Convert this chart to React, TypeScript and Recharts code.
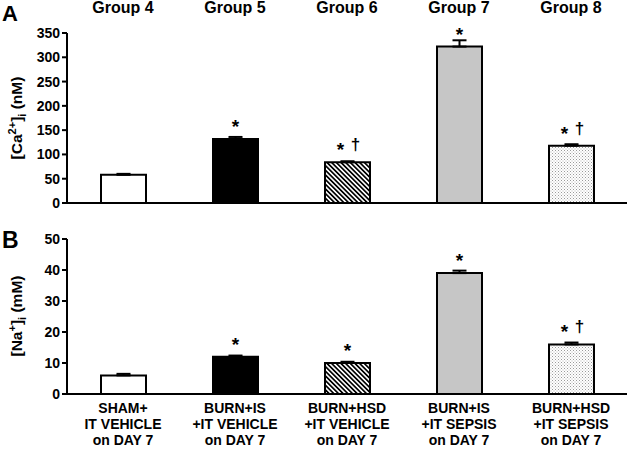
import React from "react";
import { BarChart, Bar, XAxis, YAxis, Cell, ErrorBar, LabelList } from "recharts";

const groups = ["Group 4", "Group 5", "Group 6", "Group 7", "Group 8"];
const conditions = [
  ["SHAM+", "IT VEHICLE", "on DAY 7"],
  ["BURN+IS", "+IT VEHICLE", "on DAY 7"],
  ["BURN+HSD", "+IT VEHICLE", "on DAY 7"],
  ["BURN+IS", "+IT SEPSIS", "on DAY 7"],
  ["BURN+HSD", "+IT SEPSIS", "on DAY 7"],
];
const caValues = [58, 132, 84, 322, 118];
const caErrors = [2, 4, 2, 13, 3];
const caMarks = ["", "*", "*†", "*", "*†"];
const naValues = [6, 12, 10, 39, 16];
const naErrors = [0.5, 0.4, 0.4, 0.8, 0.6];
const naMarks = ["", "*", "*", "*", "*†"];
const caTicks = [0, 50, 100, 150, 200, 250, 300, 350];
const naTicks = [0, 10, 20, 30, 40, 50];

const FONT = "'Liberation Sans', Arial, Helvetica, sans-serif";

const data = groups.map((g, i) => ({
  group: g,
  cond: i,
  ca: caValues[i],
  caErr: [0, caErrors[i]],
  caMark: caMarks[i],
  na: naValues[i],
  naErr: [0, naErrors[i]],
  naMark: naMarks[i],
}));

const fills = (p: string) => ["#ffffff", "#000000", `url(#hatch${p})`, "#c6c6c6", `url(#dots${p})`];

const Patterns = ({ p }: { p: string }) => (
  <defs>
    <pattern id={`hatch${p}`} width="3.3" height="3.3" patternUnits="userSpaceOnUse" patternTransform="rotate(-45)">
      <rect width="3.3" height="3.3" fill="#ffffff" />
      <rect width="1.7" height="3.3" fill="#000000" />
    </pattern>
    <pattern id={`dots${p}`} width="3" height="3" patternUnits="userSpaceOnUse">
      <rect width="3" height="3" fill="#ffffff" />
      <rect x="0" y="0" width="1" height="1" fill="#9a9a9a" />
      <rect x="1.5" y="1.5" width="1" height="1" fill="#b5b5b5" />
    </pattern>
  </defs>
);

const tickStyle = { fill: "#000", fontSize: 14, fontWeight: 700, fontFamily: FONT };

const YLabel = ({ cy, kind }: { cy: number; kind: "ca" | "na" }) => (
  <text
    x={22}
    y={cy}
    transform={`rotate(-90, 22, ${cy})`}
    textAnchor="middle"
    fontFamily={FONT}
    fontWeight={700}
    fontSize={15.5}
    fill="#000"
  >
    {kind === "ca" ? (
      <>
        <tspan>[Ca</tspan>
        <tspan dy={-6} fontSize={11}>2+</tspan>
        <tspan dy={6}>]</tspan>
        <tspan dy={4} fontSize={11}>i</tspan>
        <tspan dy={-4}> (nM)</tspan>
      </>
    ) : (
      <>
        <tspan>[Na</tspan>
        <tspan dy={-6} fontSize={11}>+</tspan>
        <tspan dy={6}>]</tspan>
        <tspan dy={4} fontSize={11}>i</tspan>
        <tspan dy={-4}> (mM)</tspan>
      </>
    )}
  </text>
);

const Mark = (props: any) => {
  const { x, y, width, value } = props;
  if (!value) return null;
  const cx = x + width / 2;
  const dagger = value.includes("†");
  return (
    <g fontFamily={FONT} fontWeight={700} fill="#000">
      <text x={dagger ? cx - 7 : cx} y={y - 6} textAnchor="middle" fontSize={19}>
        *
      </text>
      {dagger && (
        <text x={cx + 8} y={y - 12} textAnchor="middle" fontSize={17}>
          †
        </text>
      )}
    </g>
  );
};

const CondTick = (props: any) => {
  const { x, y, payload } = props;
  const lines = conditions[payload.value] || [];
  return (
    <text x={x} y={y} textAnchor="middle" fontFamily={FONT} fontWeight={700} fontSize={14} fill="#000">
      {lines.map((l, i) => (
        <tspan key={i} x={x} dy={i === 0 ? 11 : 16}>
          {l}
        </tspan>
      ))}
    </text>
  );
};

const axisLine = { stroke: "#000", strokeWidth: 2 };

export default function App() {
  return (
    <div style={{ position: "absolute", left: 0, top: 0, width: 633, height: 452, background: "#fff" }}>
      <div style={{ position: "absolute", left: 2, top: 1, fontFamily: FONT, fontWeight: 700, fontSize: 22 }}>A</div>
      <div style={{ position: "absolute", left: 2, top: 227, fontFamily: FONT, fontWeight: 700, fontSize: 23 }}>B</div>
      <div style={{ position: "absolute", left: 0, top: 0 }}>
        <BarChart width={633} height={215} data={data} margin={{ top: 0, right: 6, left: 0, bottom: 0 }} barSize={45}>
          <Patterns p="A" />
          <XAxis xAxisId="top" orientation="top" dataKey="group" height={33} axisLine={false} tickLine={false} tick={{ ...tickStyle, fontSize: 16 }} tickMargin={14} />
          <XAxis dataKey="group" height={12} tick={false} axisLine={axisLine} tickLine={false} />
          <YAxis
            width={67}
            domain={[0, 350]}
            ticks={caTicks}
            interval={0}
            tick={tickStyle}
            tickSize={5}
            tickLine={{ stroke: "#000", strokeWidth: 2 }}
            axisLine={axisLine}
            label={{ content: () => <YLabel cy={118} kind="ca" /> }}
          />
          <Bar dataKey="ca" stroke="#000" strokeWidth={2} isAnimationActive={false}>
            {data.map((d, i) => (
              <Cell key={d.group} fill={fills("A")[i]} />
            ))}
            <ErrorBar dataKey="caErr" width={7} stroke="#000" strokeWidth={2} direction="y" />
            <LabelList dataKey="caMark" content={<Mark />} />
          </Bar>
        </BarChart>
      </div>
      <div style={{ position: "absolute", left: 0, top: 215 }}>
        <BarChart width={633} height={237} data={data} margin={{ top: 24, right: 6, left: 0, bottom: 0 }} barSize={45}>
          <Patterns p="B" />
          <XAxis dataKey="cond" height={58} tick={<CondTick />} axisLine={axisLine} tickLine={false} interval={0} />
          <YAxis
            width={67}
            domain={[0, 50]}
            ticks={naTicks}
            interval={0}
            tick={tickStyle}
            tickSize={5}
            tickLine={{ stroke: "#000", strokeWidth: 2 }}
            axisLine={axisLine}
            label={{ content: () => <YLabel cy={101} kind="na" /> }}
          />
          <Bar dataKey="na" stroke="#000" strokeWidth={2} isAnimationActive={false}>
            {data.map((d, i) => (
              <Cell key={d.group} fill={fills("B")[i]} />
            ))}
            <ErrorBar dataKey="naErr" width={7} stroke="#000" strokeWidth={2} direction="y" />
            <LabelList dataKey="naMark" content={<Mark />} />
          </Bar>
        </BarChart>
      </div>
    </div>
  );
}
